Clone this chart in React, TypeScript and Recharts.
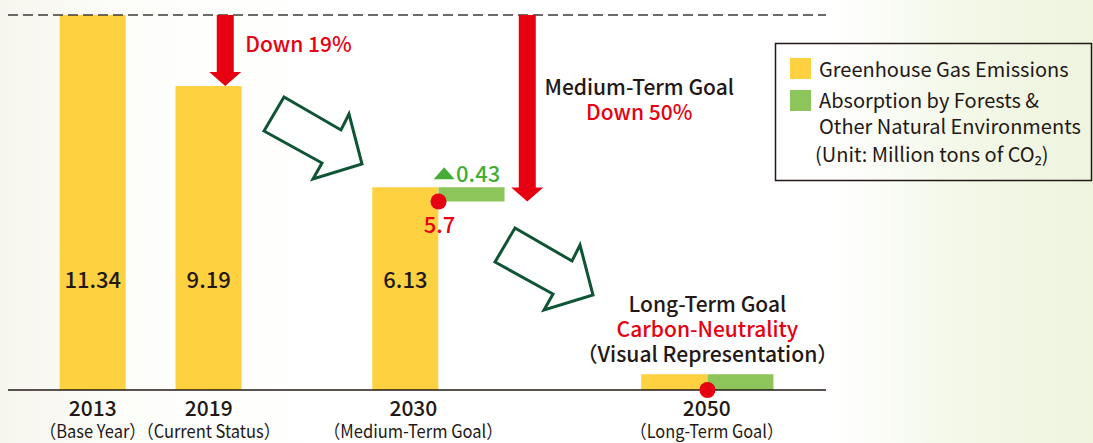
import React from 'react';
import {
  ComposedChart,
  Bar,
  Cell,
  XAxis,
  YAxis,
  ReferenceLine,
  ReferenceDot,
  Customized,
} from 'recharts';

// ---------------- data ----------------
const categories = ['2013', '2019', '2030', '2050'];
const categoryNotes = ['（Base Year）', '（Current Status）', '（Medium-Term Goal）', '（Long-Term Goal）'];
const emissions = [11.34, 9.19, 6.13, 0.48];
const emissionLabels = ['11.34', '9.19', '6.13', ''];
const absorption2030 = [5.7, 6.13];
const absorption2050 = [0, 0.48];
const absorptionLabel = '0.43';
const net2030 = 5.7;
const net2030Label = '5.7';
const net2050 = 0;
const reductionLabels = ['Down 19%', 'Down 50%'];
const mediumGoalTitle = 'Medium-Term Goal';
const longGoalLines = ['Long-Term Goal', 'Carbon-Neutrality', '（Visual Representation）'];
const legendLines = ['Greenhouse Gas Emissions', 'Absorption by Forests &', 'Other Natural Environments'];
const unitNote = '(Unit: Million tons of CO₂)';

// ---------------- layout ----------------
const W = 1093;
const H = 443;
const FONT = "'Noto Sans CJK JP', 'Noto Sans', sans-serif";
const YELLOW = '#fdd13f';
const GREEN = '#8dc55a';
const RED = '#e60012';
const DARK = '#231815';
const GREEN_TEXT = '#45ad36';
const OUTLINE = '#0f5535';

// slots along the category axis (1 unit ~ one bar width)
const EMISSION_SLOT = [1.28, 3.03, 6.0, 10.06];
const LABEL_SLOT = [1.28, 3.03, 6.12, 10.55];
const X_DOMAIN_MAX = 12.35;
const VALUE_LABEL_LEVEL = 3.08;
const ARROW1_SLOT = 3.28;
const ARROW2_SLOT = 7.84;

type Row = { slot: number; range: number[]; kind: 'e' | 'a' };
const rows: Row[] = [
  ...emissions.map((v, i) => ({ slot: EMISSION_SLOT[i], range: [0, v], kind: 'e' as const })),
  { slot: EMISSION_SLOT[2] + 1, range: absorption2030, kind: 'a' },
  { slot: EMISSION_SLOT[3] + 1, range: absorption2050, kind: 'a' },
];

const YearTick = (props: any) => {
  const { x, y, index } = props;
  const noteWidths = [106, 143, 179, 153];
  return (
    <g>
      <text x={x} y={y + 26} textAnchor="middle" fontFamily={FONT} fontSize={21} fontWeight={500} fill={DARK}>
        {categories[index]}
      </text>
      <text
        x={x}
        y={y + 48}
        textAnchor="middle"
        fontFamily={FONT}
        fontSize={18}
        fontWeight={400}
        fill={DARK}
        textLength={noteWidths[index]}
        lengthAdjust="spacingAndGlyphs"
      >
        {categoryNotes[index]}
      </text>
    </g>
  );
};

const DownArrow = (p: any) => {
  const { x1, y1, y2 } = p;
  const top = Math.min(y1, y2);
  const tip = Math.max(y1, y2);
  const head = 14;
  const sw = 8.5;
  const hw = 16;
  const pts = [
    [x1 - sw, top],
    [x1 + sw, top],
    [x1 + sw, tip - head],
    [x1 + hw, tip - head],
    [x1, tip],
    [x1 - hw, tip - head],
    [x1 - sw, tip - head],
  ]
    .map((q) => q.join(','))
    .join(' ');
  return <polygon points={pts} fill={RED} />;
};

const txt = (extra: any) => ({ fontFamily: FONT, fontSize: 21, fontWeight: 500, ...extra });

const Decorations = () => {
  const arrow = [
    [264, 131],
    [284, 97],
    [341, 130],
    [349, 114],
    [362, 164],
    [313, 179],
    [322, 163],
  ];
  const shifted = arrow.map(([a, b]) => [a + 231, b + 131]);
  const toPts = (a: number[][]) => a.map((q) => q.join(',')).join(' ');
  return (
    <g>
      <polygon points={toPts(arrow)} fill="#ffffff" stroke={OUTLINE} strokeWidth={3} strokeLinejoin="miter" />
      <polygon points={toPts(shifted)} fill="#ffffff" stroke={OUTLINE} strokeWidth={3} strokeLinejoin="miter" />
      {/* legend */}
      <rect x={775.5} y={43.5} width={316} height={137} fill="none" stroke={DARK} strokeWidth={1.5} />
      <rect x={790} y={58} width={21} height={21} fill={YELLOW} />
      <rect x={790} y={90} width={21} height={21} fill={GREEN} />
      <text x={819} y={77} {...txt({ fontSize: 20, fontWeight: 400, fill: DARK })}>{legendLines[0]}</text>
      <text x={819} y={108} {...txt({ fontSize: 20, fontWeight: 400, fill: DARK })}>{legendLines[1]}</text>
      <text x={819} y={134} {...txt({ fontSize: 20, fontWeight: 400, fill: DARK })}>{legendLines[2]}</text>
      <text x={815} y={162} {...txt({ fontSize: 20, fontWeight: 400, fill: DARK })}>{unitNote}</text>
    </g>
  );
};

export default function App() {
  return (
    <div
      style={{
        position: 'absolute',
        left: 0,
        top: 0,
        width: W,
        height: H,
        background:
          'linear-gradient(90deg, #f7f6ee 0%, #fdfdfa 12%, #ffffff 30%, #ffffff 76%, #f3f8e8 88%, #eef4de 100%)',
      }}
    >
      <ComposedChart width={W} height={H} data={rows} margin={{ top: 15, right: 267, bottom: 23, left: 8 }}>
        <XAxis
          dataKey="slot"
          type="number"
          height={30}
          domain={[0, X_DOMAIN_MAX]}
          ticks={LABEL_SLOT}
          interval={0}
          allowDataOverflow
          tick={<YearTick />}
          tickLine={false}
          tickSize={0}
          tickMargin={0}
          axisLine={{ stroke: DARK, strokeWidth: 1.5 }}
        />
        <YAxis hide type="number" domain={[0, emissions[0]]} allowDataOverflow />
        <Bar dataKey="range" barSize={66} isAnimationActive={false}>
          {rows.map((r, i) => (
            <Cell key={i} fill={r.kind === 'e' ? YELLOW : GREEN} />
          ))}
        </Bar>
        <Customized component={Decorations} />
        <ReferenceLine y={emissions[0]} stroke="#3e3a39" strokeWidth={1.5} strokeDasharray="10 5" />
        <ReferenceLine
          segment={[
            { x: ARROW1_SLOT, y: emissions[0] },
            { x: ARROW1_SLOT, y: emissions[1] },
          ]}
          shape={DownArrow}
        />
        <ReferenceLine
          segment={[
            { x: ARROW2_SLOT, y: emissions[0] },
            { x: ARROW2_SLOT, y: net2030 },
          ]}
          shape={DownArrow}
        />
        {emissionLabels.map((l, i) =>
          l ? (
            <ReferenceDot
              key={'vl' + i}
              x={EMISSION_SLOT[i]}
              y={VALUE_LABEL_LEVEL}
              r={0}
              shape={(p: any) => (
                <text x={p.cx} y={p.cy} textAnchor="middle" {...txt({ fontSize: 22, fill: DARK })}>
                  {l}
                </text>
              )}
            />
          ) : null
        )}
        {/* Down 19% */}
        <ReferenceDot
          x={ARROW1_SLOT}
          y={emissions[0]}
          r={0}
          shape={(p: any) => (
            <text x={p.cx + 20} y={p.cy + 37} {...txt({ fill: RED })}>
              {reductionLabels[0]}
            </text>
          )}
        />
        {/* Medium-term goal */}
        <ReferenceDot
          x={ARROW2_SLOT}
          y={emissions[0]}
          r={0}
          shape={(p: any) => (
            <g>
              <text x={p.cx + 112} y={p.cy + 80} textAnchor="middle" {...txt({ fill: DARK })}>
                {mediumGoalTitle}
              </text>
              <text x={p.cx + 112} y={p.cy + 105} textAnchor="middle" {...txt({ fill: RED })}>
                {reductionLabels[1]}
              </text>
            </g>
          )}
        />
        {/* absorption label */}
        <ReferenceDot
          x={EMISSION_SLOT[2] + 1}
          y={absorption2030[1]}
          r={0}
          shape={(p: any) => (
            <g>
              <polygon
                points={`${p.cx - 38},${p.cy - 8} ${p.cx - 17},${p.cy - 8} ${p.cx - 27.5},${p.cy - 20}`}
                fill={GREEN_TEXT}
              />
              <text x={p.cx - 15.6} y={p.cy - 5} {...txt({ fill: GREEN_TEXT, fontSize: 22 })}>
                {absorptionLabel}
              </text>
            </g>
          )}
        />
        {/* net 2030 */}
        <ReferenceDot x={EMISSION_SLOT[2] + 0.5} y={net2030} r={8} fill={RED} stroke="none" />
        <ReferenceDot
          x={EMISSION_SLOT[2] + 0.5}
          y={net2030}
          r={0}
          shape={(p: any) => (
            <text x={p.cx + 1} y={p.cy + 31.5} textAnchor="middle" {...txt({ fill: RED, fontSize: 22 })}>
              {net2030Label}
            </text>
          )}
        />
        {/* long-term goal */}
        <ReferenceDot
          x={EMISSION_SLOT[3] + 0.5}
          y={absorption2050[1]}
          r={0}
          shape={(p: any) => (
            <g>
              <text x={p.cx} y={p.cy - 62} textAnchor="middle" {...txt({ fill: DARK })}>
                {longGoalLines[0]}
              </text>
              <text x={p.cx} y={p.cy - 37} textAnchor="middle" {...txt({ fill: RED })}>
                {longGoalLines[1]}
              </text>
              <text
                x={p.cx}
                y={p.cy - 12}
                textAnchor="middle"
                {...txt({ fill: DARK })}
                textLength={262}
                lengthAdjust="spacingAndGlyphs"
              >
                {longGoalLines[2]}
              </text>
            </g>
          )}
        />
        <ReferenceDot x={EMISSION_SLOT[3] + 0.5} y={net2050} r={8} fill={RED} stroke="none" ifOverflow="visible" />
      </ComposedChart>
    </div>
  );
}
